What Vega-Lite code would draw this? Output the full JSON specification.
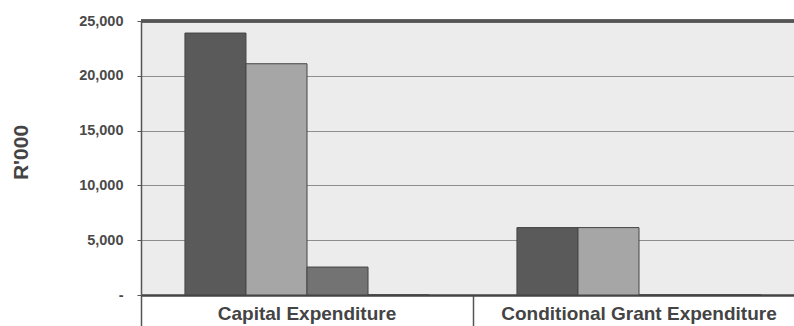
{
  "$schema": "https://vega.github.io/schema/vega-lite/v6.json",
  "width": 653,
  "height": 274,
  "autosize": {"type": "none"},
  "padding": {"left": 141, "top": 21, "right": 0, "bottom": 31},
  "background": "#ffffff",
  "config": {
    "font": "Liberation Sans",
    "view": {"fill": "#ececec", "stroke": null}
  },
  "data": {
    "values": [
      {"category": "Capital Expenditure", "series": "Series 1", "value": 23900},
      {"category": "Capital Expenditure", "series": "Series 2", "value": 21100},
      {"category": "Capital Expenditure", "series": "Series 3", "value": 2550},
      {"category": "Capital Expenditure", "series": "Series 4", "value": 0},
      {"category": "Conditional Grant Expenditure", "series": "Series 1", "value": 6150},
      {"category": "Conditional Grant Expenditure", "series": "Series 2", "value": 6150},
      {"category": "Conditional Grant Expenditure", "series": "Series 3", "value": 0},
      {"category": "Conditional Grant Expenditure", "series": "Series 4", "value": 0}
    ]
  },
  "layer": [
    {
      "mark": {"type": "bar", "stroke": "#444444", "strokeWidth": 1},
      "encoding": {
        "x": {
          "field": "category",
          "type": "nominal",
          "sort": null,
          "scale": {"paddingInner": 0, "paddingOuter": 0, "range": [0, 664]},
          "axis": {
            "title": null,
            "labelAngle": 0,
            "labelLimit": 0,
            "bandPosition": 0,
            "ticks": true,
            "tickSize": 31,
            "tickColor": "#555555",
            "tickWidth": 1.5,
            "labelPadding": -7,
            "labelBaseline": "alphabetic",
            "labelFontSize": 19,
            "labelFontWeight": "bold",
            "labelColor": "#444444",
            "domainColor": "#444444",
            "domainWidth": 2.5,
            "grid": false
          }
        },
        "xOffset": {
          "field": "series",
          "type": "nominal",
          "sort": null,
          "scale": {"paddingInner": 0, "paddingOuter": 0.72}
        },
        "y": {
          "field": "value",
          "type": "quantitative",
          "scale": {"domain": [0, 25000], "nice": false},
          "axis": {
            "title": "R'000",
            "titleFontSize": 21,
            "titleFontWeight": "bold",
            "titleColor": "#444444",
            "titleX": -120,
            "titleY": 131,
            "titleAngle": -90,
            "titleAlign": "center",
            "titleBaseline": "middle",
            "values": [0, 5000, 10000, 15000, 20000, 25000],
            "labelExpr": "datum.value == 0 ? '-' : format(datum.value, ',')",
            "labelFontSize": 14.5,
            "labelFontWeight": "bold",
            "labelColor": "#4a4a4a",
            "labelPadding": 14,
            "tickSize": 4,
            "tickColor": "#555555",
            "domainColor": "#555555",
            "domainWidth": 1.5,
            "grid": true,
            "gridColor": "#8e8e8e",
            "gridWidth": 1
          }
        },
        "color": {
          "field": "series",
          "type": "nominal",
          "sort": null,
          "scale": {"range": ["#5a5a5a", "#a6a6a6", "#737373", "#8a8a8a"]},
          "legend": null
        }
      }
    },
    {
      "mark": {"type": "rule", "color": "#555555", "strokeWidth": 2.5},
      "encoding": {"y": {"datum": 25000}}
    }
  ]
}
